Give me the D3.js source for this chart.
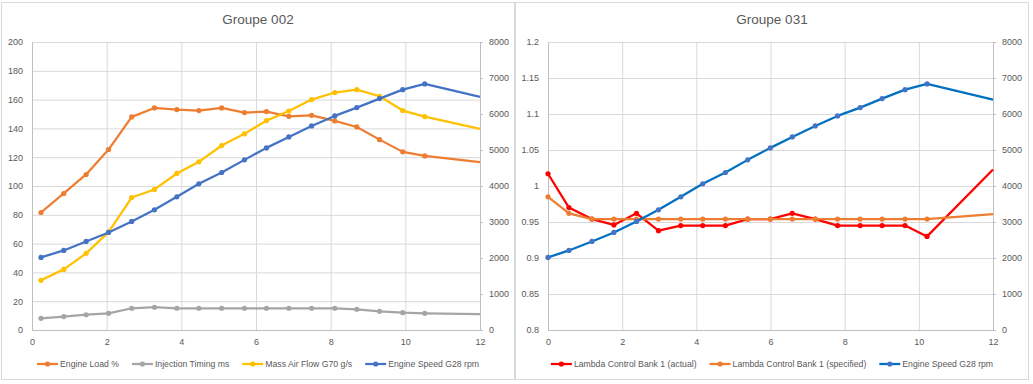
<!DOCTYPE html>
<html>
<head>
<meta charset="utf-8">
<script src="https://cdn.jsdelivr.net/npm/d3@7"></script>
<style>
  body { margin: 0; background: #fff; }
  text { font-family: "Liberation Sans", Arial, sans-serif; fill: #595959; }
</style>
</head>
<body>
<script>
// ------------------------------------------------ Data ------------------------------------------------ //
// Groupe 002
var g002_time  = [0.24, 0.85, 1.45, 2.05, 2.67, 3.28, 3.88, 4.47, 5.08, 5.69, 6.28, 6.88, 7.49, 8.11, 8.70, 9.31, 9.93, 10.52, 12];
var g002_load  = [81.6, 94.8, 108, 125.3, 148, 154.2, 153.1, 152.4, 154.2, 151, 151.7, 148.4, 149.1, 145.2, 141, 132.2, 123.7, 120.9, 116.5];
var g002_inj   = [8.1, 9.3, 10.6, 11.6, 15.1, 15.8, 15.1, 15.1, 15.1, 15.1, 15.1, 15.1, 15.1, 15.1, 14.4, 13.0, 12.0, 11.6, 11.1];
var g002_maf   = [34.5, 42.1, 53.2, 68, 92, 97.6, 108.7, 116.8, 128.1, 136.2, 145.4, 152.1, 160, 164.9, 166.9, 162.3, 152.4, 148.2, 139.7];
var g002_speed = [2016, 2210, 2460, 2710, 3015, 3339, 3699, 4060, 4375, 4726, 5059, 5364, 5669, 5947, 6178, 6428, 6677, 6835, 6474];

// Groupe 031
var g031_time  = [0, 0.565, 1.185, 1.777, 2.387, 2.979, 3.581, 4.173, 4.784, 5.385, 5.995, 6.587, 7.207, 7.808, 8.418, 9.010, 9.629, 10.222, 12];
var g031_act   = [1.017, 0.970, 0.954, 0.946, 0.962, 0.938, 0.945, 0.945, 0.945, 0.954, 0.954, 0.962, 0.954, 0.945, 0.945, 0.945, 0.945, 0.930, 1.023];
var g031_spec  = [0.985, 0.962, 0.954, 0.954, 0.954, 0.954, 0.954, 0.954, 0.954, 0.954, 0.954, 0.954, 0.954, 0.954, 0.954, 0.954, 0.954, 0.954, 0.961];
var g031_speed = [2016, 2210, 2460, 2710, 3015, 3339, 3699, 4060, 4375, 4726, 5059, 5364, 5669, 5947, 6178, 6428, 6677, 6835, 6400];

// tick labels
var x_ticks      = [0, 2, 4, 6, 8, 10, 12];
var load_ticks   = [0, 20, 40, 60, 80, 100, 120, 140, 160, 180, 200];
var lambda_ticks = [0.8, 0.85, 0.9, 0.95, 1, 1.05, 1.1, 1.15, 1.2];
var rpm_ticks    = [0, 1000, 2000, 3000, 4000, 5000, 6000, 7000, 8000];

// --------------------------------------------- Init SVG ---------------------------------------------- //
var svg = d3.select("body").append("svg")
    .attr("width", 1033)
    .attr("height", 384);

var tick_fs = "9px",
    lgd_fs = "8.7px";

var panels = [
  {
    title: "Groupe 002", x0: 1.5, left: 32, right: 480, top: 42, bottom: 330,
    time: g002_time, yDomain: [0, 200], yTicks: load_ticks, yFmt: d => d,
    series: [
      {name: "Engine Load %", vals: g002_load, axis: "L", line: "#ED7D31", dot: "#ED7D31"},
      {name: "Injection Timing ms", vals: g002_inj, axis: "L", line: "#A5A5A5", dot: "#A5A5A5"},
      {name: "Mass Air Flow G70 g/s", vals: g002_maf, axis: "L", line: "#FFC000", dot: "#FFC000"},
      {name: "Engine Speed G28 rpm", vals: g002_speed, axis: "R", line: "#4472C4", dot: "#4472C4"}
    ]
  },
  {
    title: "Groupe 031", x0: 515.5, left: 548, right: 993, top: 42, bottom: 330,
    time: g031_time, yDomain: [0.8, 1.2], yTicks: lambda_ticks, yFmt: d => String(+d.toFixed(2)),
    series: [
      {name: "Lambda Control Bank 1 (actual)", vals: g031_act, axis: "L", line: "#FF0000", dot: "#FF0000"},
      {name: "Lambda Control Bank 1 (specified)", vals: g031_spec, axis: "L", line: "#ED7D31", dot: "#ED7D31"},
      {name: "Engine Speed G28 rpm", vals: g031_speed, axis: "R", line: "#0070C0", dot: "#4472C4"}
    ]
  }
];

// ------------------------------------------ Draw Functions ------------------------------------------- //
function draw_panel(p) {
  var fw = 513, fh = 377;
  var g = svg.append("g");

  // frame
  g.append("rect")
      .attr("x", p.x0).attr("y", 2.5)
      .attr("width", fw).attr("height", fh)
      .attr("fill", "#fff").attr("stroke", "#d9d9d9");

  g.append("text")
      .attr("x", p.x0 + fw / 2).attr("y", 24)
      .attr("text-anchor", "middle")
      .attr("font-size", "13.5px")
      .text(p.title);

  var x = d3.scaleLinear().domain([0, 12]).range([p.left, p.right]);
  var yL = d3.scaleLinear().domain(p.yDomain).range([p.bottom, p.top]);
  var yR = d3.scaleLinear().domain([0, 8000]).range([p.bottom, p.top]);
  var w = p.right - p.left, h = p.bottom - p.top;

  // gridlines
  g.append("g")
      .attr("transform", "translate(" + p.left + ",0)")
      .call(d3.axisLeft(yL).tickValues(p.yTicks).tickSize(-w).tickFormat(""))
      .call(a => a.select(".domain").remove())
      .selectAll("line").attr("stroke", "#d9d9d9");
  g.append("g")
      .attr("transform", "translate(0," + p.bottom + ")")
      .call(d3.axisBottom(x).tickValues(x_ticks).tickSize(-h).tickFormat(""))
      .call(a => a.select(".domain").remove())
      .selectAll("line").attr("stroke", "#d9d9d9");

  // axes
  var ax = g.append("g")
      .attr("transform", "translate(" + p.left + ",0)")
      .call(d3.axisLeft(yL).tickValues(p.yTicks).tickSize(0).tickPadding(9).tickFormat(p.yFmt));
  var ar = g.append("g")
      .attr("transform", "translate(" + p.right + ",0)")
      .call(d3.axisRight(yR).tickValues(rpm_ticks).tickSize(3).tickPadding(6).tickFormat(d => d));
  var ab = g.append("g")
      .attr("transform", "translate(0," + p.bottom + ")")
      .call(d3.axisBottom(x).tickValues(x_ticks).tickSize(0).tickPadding(9));
  [ax, ar, ab].forEach(a => {
    a.attr("font-family", null).attr("font-size", null);
    a.selectAll(".domain").attr("stroke", "#bfbfbf");
    a.selectAll("line").attr("stroke", "#bfbfbf");
    a.selectAll("text").attr("font-size", tick_fs).attr("fill", "#595959");
  });

  // series
  p.series.forEach(s => {
    var y = s.axis == "L" ? yL : yR;
    var pts = p.time.map((t, i) => [t, s.vals[i]]);
    g.append("path")
        .datum(pts)
        .attr("fill", "none")
        .attr("stroke", s.line)
        .attr("stroke-width", 2.25)
        .attr("stroke-linejoin", "round")
        .attr("d", d3.line().x(d => x(d[0])).y(d => y(d[1])));
    g.append("g").selectAll("circle")
        .data(pts.slice(0, -1))
        .enter().append("circle")
            .attr("cx", d => x(d[0]))
            .attr("cy", d => y(d[1]))
            .attr("r", 2.6)
            .attr("fill", s.dot);
  });

  // legend
  var lg = g.append("g");
  var cur = 0;
  p.series.forEach(s => {
    var item = lg.append("g").attr("transform", "translate(" + cur + ",0)");
    item.append("line")
        .attr("x1", 0).attr("x2", 21)
        .attr("stroke", s.line).attr("stroke-width", 2.25);
    item.append("circle")
        .attr("cx", 10.5).attr("r", 2.6).attr("fill", s.dot);
    var t = item.append("text")
        .attr("x", 23).attr("dy", "0.35em")
        .attr("font-size", lgd_fs)
        .text(s.name);
    cur += 23 + t.node().getComputedTextLength() + 13;
  });
  var lw = cur - 13;
  lg.attr("transform", "translate(" + (p.x0 + fw / 2 - lw / 2) + ",364)");
}

panels.forEach(draw_panel);
</script>
</body>
</html>
